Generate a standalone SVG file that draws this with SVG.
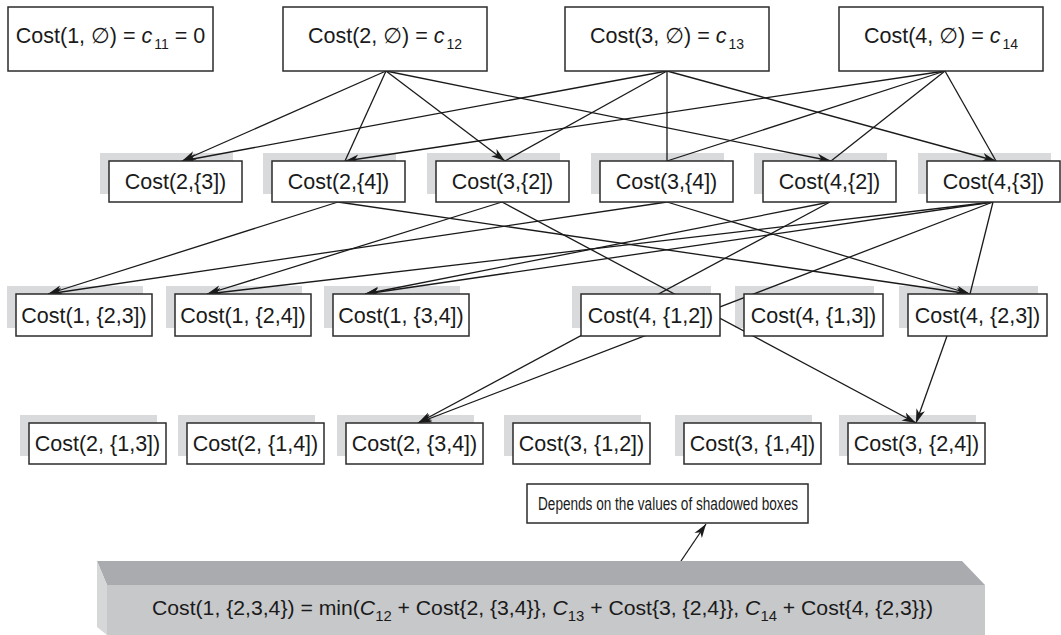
<svg xmlns="http://www.w3.org/2000/svg" width="1061" height="635" viewBox="0 0 1061 635">
  <style>
    .box { fill: #ffffff; stroke: #2b2b2b; stroke-width: 1.5; }
    .sh { fill: #d9dadc; }
    .t { font-family: "Liberation Sans", Arial, "DejaVu Sans", sans-serif; font-size: 21.5px; fill: #1a1a1a; text-anchor: middle; }
    .ln { stroke: #1a1a1a; stroke-width: 1.3; fill: none; }
    .ar { marker-end: url(#head); }
  </style>
  <defs>
    <marker id="head" viewBox="0 0 14 10" refX="14" refY="5" markerWidth="14" markerHeight="10" markerUnits="userSpaceOnUse" orient="auto">
      <path d="M0,0.5 L14,5 L0,9.5 L4,5 Z" fill="#1a1a1a"/>
    </marker>
  </defs>
  <rect width="1061" height="635" fill="#ffffff"/>

  <!-- drop shadows behind the subproblem boxes -->
  <g id="shadows">
    <rect class="sh" x="100" y="153" width="133" height="41"/>
    <rect class="sh" x="263" y="153" width="133" height="41"/>
    <rect class="sh" x="427" y="153" width="133" height="41"/>
    <rect class="sh" x="591" y="153" width="133" height="41"/>
    <rect class="sh" x="754" y="153" width="133" height="41"/>
    <rect class="sh" x="918" y="153" width="133" height="41"/>
    <rect class="sh" x="7" y="286" width="136" height="42"/>
    <rect class="sh" x="166" y="286" width="136" height="42"/>
    <rect class="sh" x="324" y="286" width="136" height="42"/>
    <rect class="sh" x="572" y="286" width="139" height="42"/>
    <rect class="sh" x="735" y="286" width="139" height="42"/>
    <rect class="sh" x="899" y="286" width="139" height="42"/>
    <rect class="sh" x="20" y="415" width="137" height="41"/>
    <rect class="sh" x="178" y="415" width="137" height="41"/>
    <rect class="sh" x="337" y="415" width="137" height="41"/>
    <rect class="sh" x="504" y="415" width="137" height="41"/>
    <rect class="sh" x="675" y="415" width="137" height="41"/>
    <rect class="sh" x="839" y="415" width="137" height="41"/>
  </g>

  <!-- dependency connectors -->
  <g id="connectors">
    <line class="ln ar" x1="386" y1="71" x2="182" y2="161"/>
    <line class="ln" x1="386" y1="71" x2="345" y2="161"/>
    <line class="ln ar" x1="386" y1="71" x2="505" y2="161"/>
    <line class="ln ar" x1="386" y1="71" x2="831" y2="161"/>
    <line class="ln ar" x1="667" y1="71" x2="182" y2="161"/>
    <line class="ln" x1="667" y1="71" x2="505" y2="161"/>
    <line class="ln" x1="667" y1="71" x2="667" y2="161"/>
    <line class="ln ar" x1="667" y1="71" x2="996" y2="161"/>
    <line class="ln ar" x1="945" y1="71" x2="345" y2="161"/>
    <line class="ln" x1="945" y1="71" x2="667" y2="161"/>
    <line class="ln" x1="945" y1="71" x2="831" y2="161"/>
    <line class="ln" x1="945" y1="71" x2="996" y2="161"/>

    <line class="ln ar" x1="338" y1="202" x2="48" y2="294"/>
    <line class="ln ar" x1="338" y1="202" x2="970" y2="294"/>
    <line class="ln ar" x1="502" y1="202" x2="207" y2="294"/>
    <line class="ln ar" x1="502" y1="202" x2="916" y2="423"/>
    <line class="ln ar" x1="667" y1="202" x2="48" y2="294"/>
    <line class="ln ar" x1="667" y1="202" x2="970" y2="294"/>
    <line class="ln ar" x1="830" y1="202" x2="365" y2="294"/>
    <line class="ln ar" x1="830" y1="202" x2="418" y2="423"/>
    <line class="ln ar" x1="993" y1="202" x2="207" y2="294"/>
    <line class="ln ar" x1="993" y1="202" x2="365" y2="294"/>
    <line class="ln ar" x1="993" y1="202" x2="418" y2="423"/>
    <line class="ln" x1="993" y1="202" x2="970" y2="294"/>

    <line class="ln ar" x1="947" y1="336" x2="916" y2="423"/>
    <line class="ln ar" x1="681" y1="561" x2="706" y2="524"/>
  </g>

  <!-- base cases -->
  <g id="cost-1-empty">
    <rect class="box" x="8" y="7" width="205" height="64"/>
    <text class="t" x="110.5" y="43">Cost(1, ∅) = <tspan font-style="italic">c</tspan><tspan font-size="14" dx="2" dy="6">11</tspan><tspan dy="-6"> = 0</tspan></text>
  </g>
  <g id="cost-2-empty">
    <rect class="box" x="283" y="7" width="204" height="64"/>
    <text class="t" x="385" y="43">Cost(2, ∅) = <tspan font-style="italic">c</tspan><tspan font-size="14" dx="2" dy="6">12</tspan></text>
  </g>
  <g id="cost-3-empty">
    <rect class="box" x="565" y="7" width="204" height="64"/>
    <text class="t" x="667" y="43">Cost(3, ∅) = <tspan font-style="italic">c</tspan><tspan font-size="14" dx="2" dy="6">13</tspan></text>
  </g>
  <g id="cost-4-empty">
    <rect class="box" x="839" y="7" width="204" height="64"/>
    <text class="t" x="941" y="43">Cost(4, ∅) = <tspan font-style="italic">c</tspan><tspan font-size="14" dx="2" dy="6">14</tspan></text>
  </g>

  <!-- one-element sets -->
  <g id="cost-2-3">
    <rect class="box" x="109" y="161" width="133" height="41"/>
    <text class="t" x="175.5" y="189">Cost(2,{3])</text>
  </g>
  <g id="cost-2-4">
    <rect class="box" x="272" y="161" width="133" height="41"/>
    <text class="t" x="338.5" y="189">Cost(2,{4])</text>
  </g>
  <g id="cost-3-2">
    <rect class="box" x="436" y="161" width="133" height="41"/>
    <text class="t" x="502.5" y="189">Cost(3,{2])</text>
  </g>
  <g id="cost-3-4">
    <rect class="box" x="600" y="161" width="133" height="41"/>
    <text class="t" x="666.5" y="189">Cost(3,{4])</text>
  </g>
  <g id="cost-4-2">
    <rect class="box" x="763" y="161" width="133" height="41"/>
    <text class="t" x="829.5" y="189">Cost(4,{2])</text>
  </g>
  <g id="cost-4-3">
    <rect class="box" x="927" y="161" width="133" height="41"/>
    <text class="t" x="993.5" y="189">Cost(4,{3])</text>
  </g>

  <!-- two-element sets -->
  <g id="cost-1-23">
    <rect class="box" x="16" y="294" width="136" height="42"/>
    <text class="t" x="84" y="322.5">Cost(1, {2,3])</text>
  </g>
  <g id="cost-1-24">
    <rect class="box" x="175" y="294" width="136" height="42"/>
    <text class="t" x="243" y="322.5">Cost(1, {2,4])</text>
  </g>
  <g id="cost-1-34">
    <rect class="box" x="333" y="294" width="136" height="42"/>
    <text class="t" x="401" y="322.5">Cost(1, {3,4])</text>
  </g>
  <g id="cost-4-12">
    <rect class="box" x="581" y="294" width="139" height="42"/>
    <text class="t" x="650.5" y="322.5">Cost(4, {1,2])</text>
  </g>
  <g id="cost-4-13">
    <rect class="box" x="744" y="294" width="139" height="42"/>
    <text class="t" x="813.5" y="322.5">Cost(4, {1,3])</text>
  </g>
  <g id="cost-4-23">
    <rect class="box" x="908" y="294" width="139" height="42"/>
    <text class="t" x="977.5" y="322.5">Cost(4, {2,3])</text>
  </g>

  <g id="cost-2-13">
    <rect class="box" x="29" y="423" width="137" height="41"/>
    <text class="t" x="97.5" y="451">Cost(2, {1,3])</text>
  </g>
  <g id="cost-2-14">
    <rect class="box" x="187" y="423" width="137" height="41"/>
    <text class="t" x="255.5" y="451">Cost(2, {1,4])</text>
  </g>
  <g id="cost-2-34">
    <rect class="box" x="346" y="423" width="137" height="41"/>
    <text class="t" x="414.5" y="451">Cost(2, {3,4])</text>
  </g>
  <g id="cost-3-12">
    <rect class="box" x="513" y="423" width="137" height="41"/>
    <text class="t" x="581.5" y="451">Cost(3, {1,2])</text>
  </g>
  <g id="cost-3-14">
    <rect class="box" x="684" y="423" width="137" height="41"/>
    <text class="t" x="752.5" y="451">Cost(3, {1,4])</text>
  </g>
  <g id="cost-3-24">
    <rect class="box" x="848" y="423" width="137" height="41"/>
    <text class="t" x="916.5" y="451">Cost(3, {2,4])</text>
  </g>

  <!-- note -->
  <g id="note">
    <rect class="box" x="527" y="484" width="281" height="39" stroke-width="1.3"/>
    <text class="t" x="538" y="510" style="font-size:17.5px;text-anchor:start" textLength="260" lengthAdjust="spacingAndGlyphs">Depends on the values of shadowed boxes</text>
  </g>

  <!-- final result slab -->
  <g id="result">
    <polygon points="97,561 962,561 985,585 107,585" fill="#a9abae"/>
    <polygon points="97,561 107,585 107,635 97,627" fill="#d6d7d9"/>
    <rect x="107" y="585" width="878" height="50" fill="#c7c8ca"/>
    <text class="t" x="152" y="615" style="font-size:20px;text-anchor:start" textLength="781" lengthAdjust="spacingAndGlyphs">Cost(1, {2,3,4}) = min(<tspan font-style="italic">C</tspan><tspan font-size="14" dy="6">12</tspan><tspan dy="-6"> + Cost{2, {3,4}}, </tspan><tspan font-style="italic">C</tspan><tspan font-size="14" dy="6">13</tspan><tspan dy="-6"> + Cost{3, {2,4}}, </tspan><tspan font-style="italic">C</tspan><tspan font-size="14" dy="6">14</tspan><tspan dy="-6"> + Cost{4, {2,3}})</tspan></text>
  </g>
</svg>
